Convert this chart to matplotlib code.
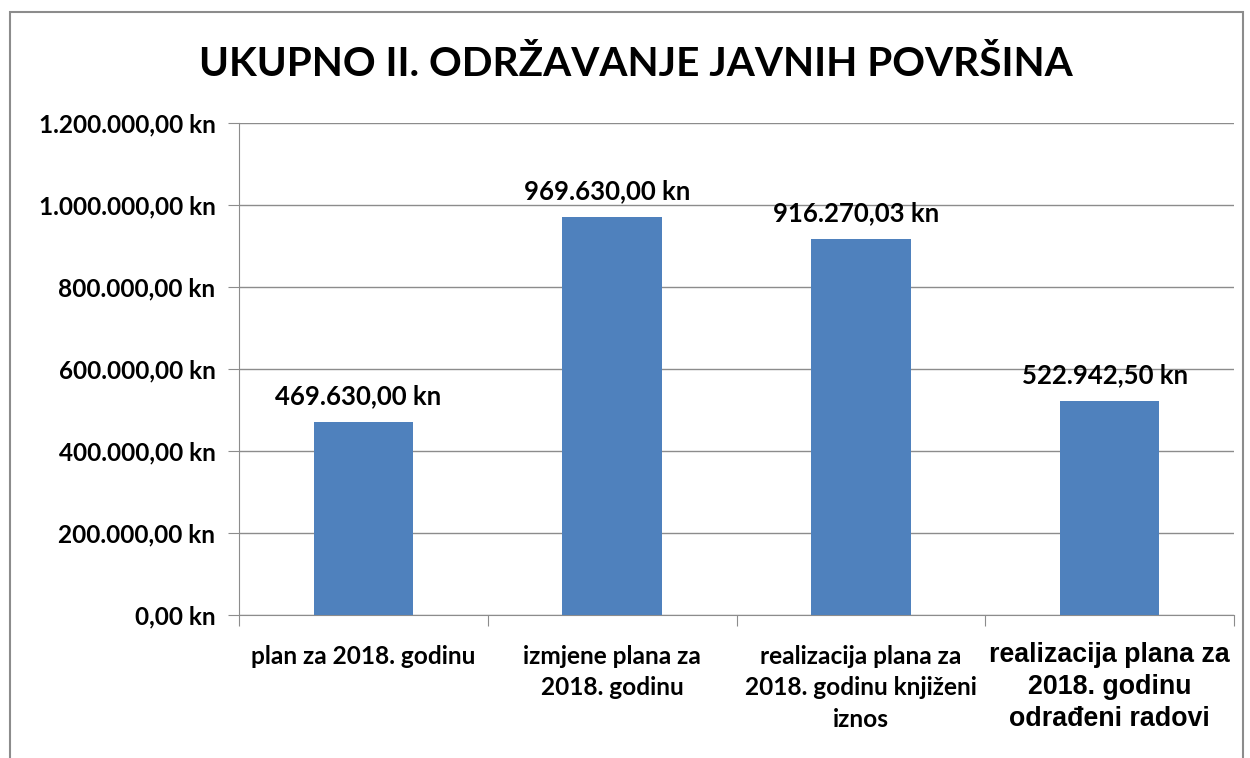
import matplotlib
matplotlib.use("Agg")
import matplotlib.pyplot as plt
from matplotlib.patches import Rectangle

categories = ["plan za 2018. godinu",
              "izmjene plana za\n2018. godinu",
              "realizacija plana za\n2018. godinu knjiženi\niznos",
              "realizacija plana za\n2018. godinu\nodrađeni radovi"]
values = [469630.00, 969630.00, 916270.03, 522942.50]
yticks = [0, 200000, 400000, 600000, 800000, 1000000, 1200000]
title = "UKUPNO II. ODRŽAVANJE JAVNIH POVRŠINA"

def fmt(v):
    s = f"{v:,.2f}"
    s = s.replace(",", "X").replace(".", ",").replace("X", ".")
    return s + " kn"

W, H = 1250, 758
fig = plt.figure(figsize=(W/100, H/100), dpi=100)
fig.patch.set_facecolor("white")
# outer frame (bottom edge lies outside the image)
fig.add_artist(Rectangle((10/W, -0.05), (1243-10)/W, 1.05 - 12/H, transform=fig.transFigure,
                         fill=False, edgecolor="#8c8c8c", linewidth=1.5))

ax = fig.add_axes([239/W, 1 - 615/H, (1234-239)/W, (615-123)/H])
x = range(len(values))
ax.bar(x, values, width=0.4, color="#4F81BD", zorder=3)
ax.set_xlim(-0.5, len(values) - 0.5)
ax.set_ylim(0, 1200000)
ax.set_yticks(yticks)
ax.set_yticklabels([fmt(v) for v in yticks], fontsize=17.6, fontweight="bold", family="Lato")
ax.yaxis.grid(True, color="#8c8c8c", linewidth=1, zorder=0)
for s in ["top", "right"]:
    ax.spines[s].set_visible(False)
for s in ["left", "bottom"]:
    ax.spines[s].set_color("#8c8c8c")
ax.tick_params(axis="y", length=8, color="#8c8c8c", pad=9)
ax.set_xticks([i - 0.5 for i in range(len(values) + 1)], minor=False)
ax.set_xticklabels([""] * (len(values) + 1))
ax.tick_params(axis="x", length=8, color="#8c8c8c")

for i, (v, c) in enumerate(zip(values, categories)):
    ax.text(i - 0.02, v + 34000, fmt(v), ha="center", va="bottom", fontsize=18.5,
            fontweight="bold", family="Lato")
    if i < 3:
        ax.text(i, -0.06, c, transform=ax.get_xaxis_transform(), ha="center", va="top",
                fontsize=17.6, fontweight="bold", family="Lato", linespacing=1.45)
    else:
        ax.text(i, -0.055, c, transform=ax.get_xaxis_transform(), ha="center", va="top",
                fontsize=19.3, fontweight="bold", family="Liberation Sans", linespacing=1.3)

fig.text(636/W, 1 - 64/H, title, ha="center", va="center", fontsize=29.2,
         fontweight="bold", family="Lato")

fig.savefig("out.png", dpi=100)
